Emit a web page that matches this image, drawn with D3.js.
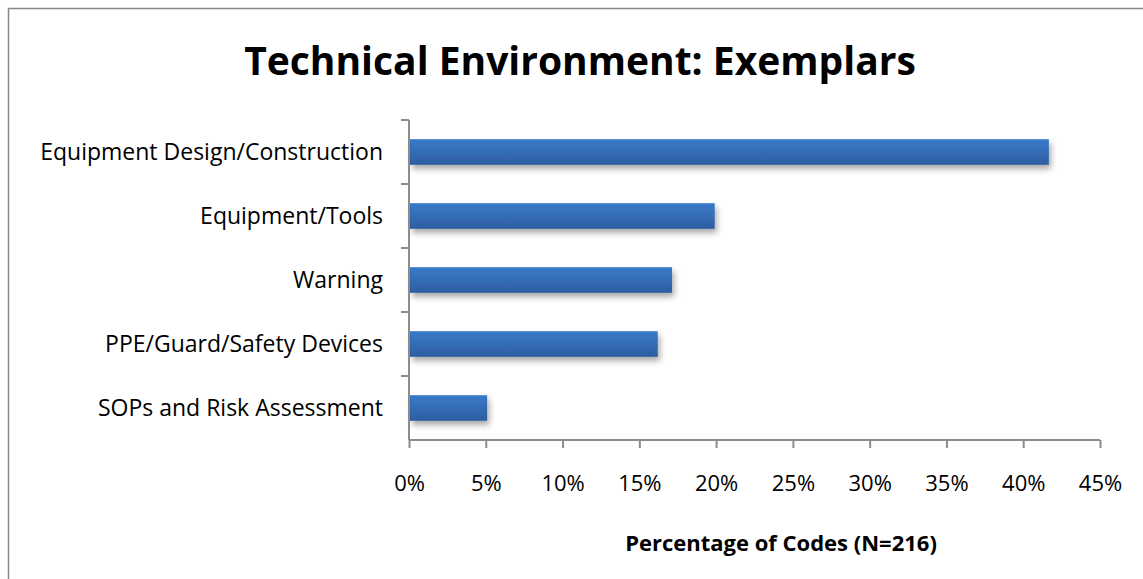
<!DOCTYPE html>
<html>
<head>
<meta charset="utf-8">
<script src="https://cdn.jsdelivr.net/npm/d3@7"></script>
<style>
  body { margin: 0; background: #fff; }
  svg { display: block; }
</style>
</head>
<body>
<div id="chart"></div>
<script>
const categories = ["Equipment Design/Construction", "Equipment/Tools", "Warning",
                    "PPE/Guard/Safety Devices", "SOPs and Risk Assessment"];
const percents = [41.67, 19.91, 17.13, 16.20, 5.09];
const xTicks = [0, 5, 10, 15, 20, 25, 30, 35, 40, 45];

const titleText = "Technical Environment: Exemplars";
const xTitle = "Percentage of Codes (N=216)";

const width = 1143, height = 579;
const margin = { top: 120, right: 43, bottom: 139, left: 409 };
const font = "Open Sans, Lato, sans-serif";
const axisColor = "#8c8c8c";

const svg = d3.select("div#chart").append("svg")
  .attr("width", width)
  .attr("height", height);

const defs = svg.append("defs");
const grad = defs.append("linearGradient")
  .attr("id", "barFill")
  .attr("x1", 0).attr("y1", 0).attr("x2", 0).attr("y2", 1);
grad.append("stop").attr("offset", "0%").attr("stop-color", "#3b7bcb");
grad.append("stop").attr("offset", "100%").attr("stop-color", "#2c5d9e");

const shadow = defs.append("filter")
  .attr("id", "shadow")
  .attr("x", "-5%").attr("y", "-30%")
  .attr("width", "115%").attr("height", "190%");
shadow.append("feDropShadow")
  .attr("dx", 2).attr("dy", 4)
  .attr("stdDeviation", 3)
  .attr("flood-color", "#000")
  .attr("flood-opacity", 0.35);

// outer frame
svg.append("rect")
  .attr("x", 8.5).attr("y", 8.5)
  .attr("width", width + 20).attr("height", height + 20)
  .attr("fill", "none")
  .attr("stroke", "#888")
  .attr("stroke-width", 1.5);

const x = d3.scaleLinear()
  .domain([0, 45])
  .range([margin.left, width - margin.right]);

const y = d3.scaleBand()
  .domain(categories)
  .range([margin.top, height - margin.bottom])
  .paddingInner(0.6)
  .paddingOuter(0.3);

// bars
svg.append("g")
  .selectAll("rect")
  .data(categories)
  .join("rect")
  .attr("x", x(0) + 1)
  .attr("y", d => y(d))
  .attr("width", (d, i) => x(percents[i]) - x(0) - 1)
  .attr("height", y.bandwidth())
  .attr("fill", "url(#barFill)")
  .attr("filter", "url(#shadow)");

// y axis: line + ticks at band boundaries
const yAxis = svg.append("g");
yAxis.append("line")
  .attr("x1", x(0)).attr("x2", x(0))
  .attr("y1", margin.top).attr("y2", height - margin.bottom)
  .attr("stroke", axisColor).attr("stroke-width", 2);
yAxis.selectAll("line.tick")
  .data([margin.top].concat(categories.slice(1).map(c => y(c) - y.step() * y.paddingInner() / 2)))
  .join("line")
  .attr("class", "tick")
  .attr("x1", x(0) - 8).attr("x2", x(0))
  .attr("y1", d => d).attr("y2", d => d)
  .attr("stroke", axisColor).attr("stroke-width", 2);
yAxis.selectAll("text")
  .data(categories)
  .join("text")
  .attr("x", x(0) - 26)
  .attr("y", d => y(d) + y.bandwidth() / 2)
  .attr("dy", "0.35em")
  .attr("text-anchor", "end")
  .attr("font-family", font)
  .attr("font-size", "23px")
  .attr("fill", "#000")
  .text(d => d);

// x axis
const xAxis = svg.append("g")
  .attr("transform", `translate(0,${height - margin.bottom})`)
  .call(d3.axisBottom(x).tickValues(xTicks).tickFormat(d => d + "%").tickSize(8).tickPadding(27));
xAxis.select(".domain")
  .attr("stroke", axisColor).attr("stroke-width", 2)
  .attr("d", `M${x(0)},0H${x(45)}`);
xAxis.selectAll(".tick line").attr("stroke", axisColor).attr("stroke-width", 2);
xAxis.selectAll(".tick text")
  .attr("font-family", font)
  .attr("font-size", "22px")
  .attr("fill", "#000");

// titles
svg.append("text")
  .attr("x", 580).attr("y", 75)
  .attr("text-anchor", "middle")
  .attr("font-family", font)
  .attr("font-weight", "bold")
  .attr("font-size", "39px")
  .text(titleText);

svg.append("text")
  .attr("x", 781).attr("y", 551)
  .attr("text-anchor", "middle")
  .attr("font-family", font)
  .attr("font-weight", "bold")
  .attr("font-size", "22px")
  .text(xTitle);
</script>
</body>
</html>
